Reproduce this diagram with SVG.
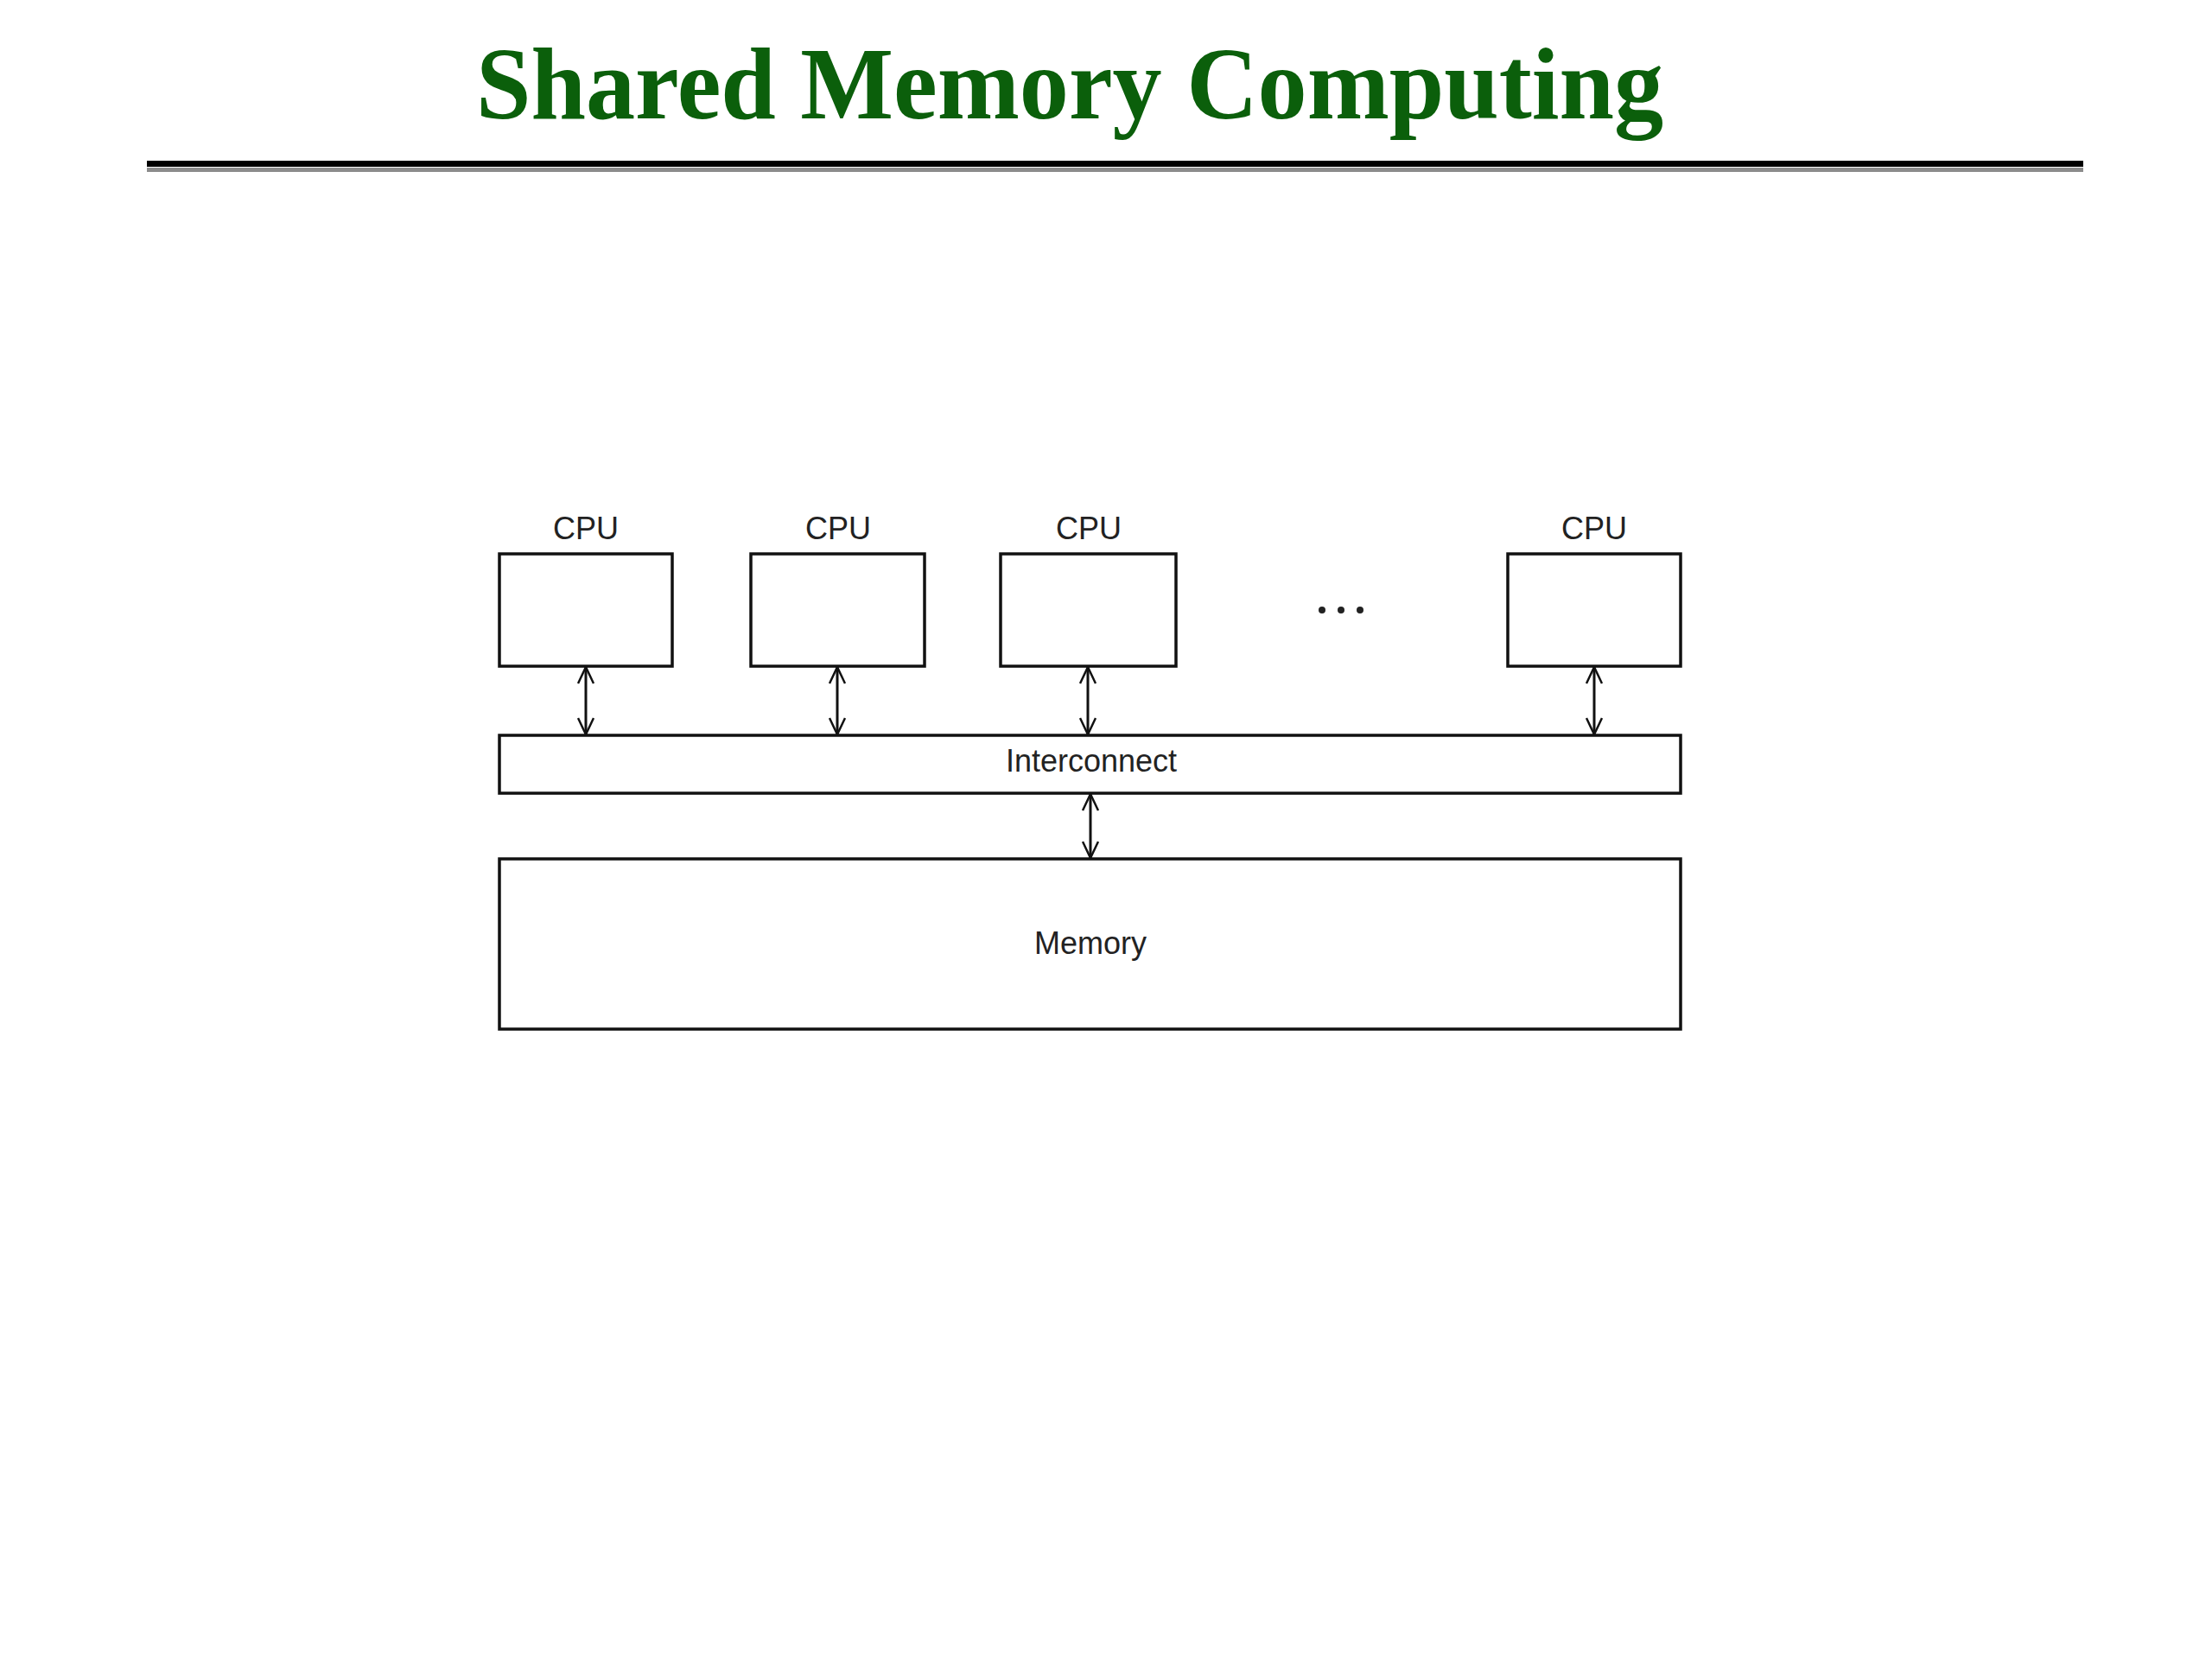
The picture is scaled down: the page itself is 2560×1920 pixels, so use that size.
<svg xmlns="http://www.w3.org/2000/svg" width="2560" height="1920" viewBox="0 0 2560 1920">
  <style>
    .box { fill: #ffffff; stroke: #111111; stroke-width: 3.5; }
    .lbl { font-family: "Liberation Sans", Arial, sans-serif; font-size: 36px; fill: #222222; text-anchor: middle; }
    .title { font-family: "Liberation Serif", "Times New Roman", serif; font-weight: bold; font-size: 118px; fill: #0b5f0b; }
    .conn { stroke: #111111; stroke-width: 3; fill: none; marker-start: url(#arr); marker-end: url(#arr); }
  </style>
  <defs>
    <marker id="arr" viewBox="0 0 20 20" refX="20" refY="10" markerWidth="20" markerHeight="20" markerUnits="userSpaceOnUse" orient="auto-start-reverse">
      <path d="M1,1 L20,10 L1,19" fill="none" stroke="#111111" stroke-width="2.5"/>
    </marker>
  </defs>
  <rect width="2560" height="1920" fill="#ffffff"/>

  <g id="title">
    <text class="title" x="551" y="137" textLength="1374" lengthAdjust="spacingAndGlyphs">Shared Memory Computing</text>
    <rect x="170" y="186" width="2241" height="7" fill="#000000"/>
    <rect x="170" y="194" width="2241" height="5" fill="#8c8c8c"/>
  </g>

  <g id="connectors">
    <line class="conn" x1="678" y1="772" x2="678" y2="850"/>
    <line class="conn" x1="969" y1="772" x2="969" y2="850"/>
    <line class="conn" x1="1259" y1="772" x2="1259" y2="850"/>
    <line class="conn" x1="1845" y1="772" x2="1845" y2="850"/>
    <line class="conn" x1="1262" y1="919" x2="1262" y2="993"/>
  </g>

  <g id="cpu1">
    <rect class="box" x="578" y="641" width="200" height="130"/>
    <text class="lbl" x="678" y="624">CPU</text>
  </g>
  <g id="cpu2">
    <rect class="box" x="869" y="641" width="201" height="130"/>
    <text class="lbl" x="970" y="624">CPU</text>
  </g>
  <g id="cpu3">
    <rect class="box" x="1158" y="641" width="203" height="130"/>
    <text class="lbl" x="1260" y="624">CPU</text>
  </g>
  <g id="ellipsis">
    <circle cx="1530" cy="706" r="4" fill="#222222"/>
    <circle cx="1552" cy="706" r="4" fill="#222222"/>
    <circle cx="1574" cy="706" r="4" fill="#222222"/>
  </g>
  <g id="cpu4">
    <rect class="box" x="1745" y="641" width="200" height="130"/>
    <text class="lbl" x="1845" y="624">CPU</text>
  </g>
  <g id="interconnect">
    <rect class="box" x="578" y="851" width="1367" height="67"/>
    <text class="lbl" x="1263" y="893">Interconnect</text>
  </g>
  <g id="memory">
    <rect class="box" x="578" y="994" width="1367" height="197"/>
    <text class="lbl" x="1262" y="1104">Memory</text>
  </g>
</svg>
